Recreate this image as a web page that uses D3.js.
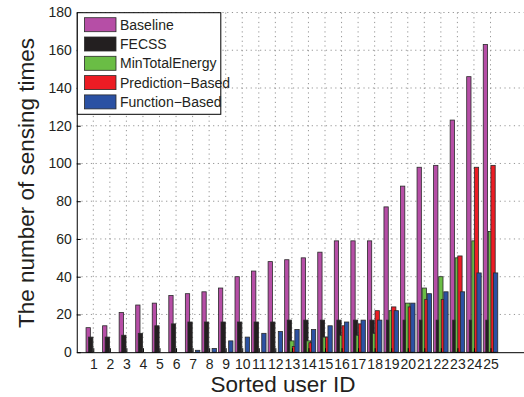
<!DOCTYPE html>
<html>
<head>
<meta charset="utf-8">
<script src="https://cdn.jsdelivr.net/npm/d3@7"></script>
<style>
  html, body { margin: 0; padding: 0; background: #fff; }
  svg { display: block; font-family: "Liberation Sans", Arial, Helvetica, sans-serif; }
</style>
</head>
<body>
<svg id="chart" width="524" height="397"></svg>
<script>
// Sorted user IDs and the number of sensing times per strategy
const userIds = d3.range(1, 26);
const seriesNames = ["Baseline", "FECSS", "MinTotalEnergy", "Prediction\u2212Based", "Function\u2212Based"];
const baseline       = [13, 14, 21, 25, 26, 30, 31, 32, 34, 40, 43, 48, 49, 50, 53, 59, 59, 59, 77, 88, 98, 99, 123, 146, 163];
const fecss          = [8, 8, 9, 10, 14, 15, 16, 16, 16, 16, 16, 16, 17, 17, 17, 17, 17, 17, 17, 17, 17, 17, 17, 17, 17];
const minTotalEnergy = [0, 0, 0, 0, 0, 0, 0, 0, 0, 0, 0, 0, 6, 6, 8, 9, 9, 10, 22, 26, 34, 40, 50, 59, 64];
const predictionBased = [0, 0, 0, 0, 0, 0, 0, 0, 0, 0, 0, 0, 3, 5, 8, 14, 15, 22, 24, 24, 28, 28, 51, 98, 99];
const functionBased  = [0, 0, 0, 0, 0, 0, 1, 2, 6, 8, 10, 11, 12, 12, 14, 16, 17, 17, 22, 26, 31, 32, 32, 42, 42];
const yTicks = [0, 20, 40, 60, 80, 100, 120, 140, 160, 180];
const seriesColors = ["#b64ea6", "#231f20", "#6abd45", "#ec1c24", "#2b51a3"];

const allSeries = [baseline, fecss, minTotalEnergy, predictionBased, functionBased];

const svg = d3.select("#chart");
const plotLeft = 76.75, plotRight = 523.6, plotTop = 12.5, plotBottom = 352.2;

const x = d3.scaleLinear().domain([0, 27]).range([plotLeft, plotRight]);
const y = d3.scaleLinear().domain([0, 180]).range([plotBottom, plotTop]);

// dotted grid
const grid = svg.append("g");
grid.selectAll("line.h").data(yTicks.filter(d => d > 0)).enter().append("line")
  .attr("class", "h")
  .attr("x1", plotLeft).attr("x2", plotRight)
  .attr("y1", d => y(d)).attr("y2", d => y(d))
  .attr("stroke", "#8a8a8a").attr("stroke-width", 0.9).attr("stroke-dasharray", "1.2,3.5");
grid.selectAll("line.v").data(userIds).enter().append("line")
  .attr("class", "v")
  .attr("x1", d => x(d)).attr("x2", d => x(d))
  .attr("y1", plotTop).attr("y2", plotBottom)
  .attr("stroke", "#8a8a8a").attr("stroke-width", 0.9).attr("stroke-dasharray", "1.2,3.5");

// grouped bars: five series side by side around each user ID
const step = 0.154;      // offset between neighbouring series (data units)
const barW = 0.26;       // bar width (data units)
const bars = svg.append("g");
allSeries.forEach((vals, si) => {
  const off = (si - 2) * step;
  bars.append("g").selectAll("rect")
    .data(vals.map((v, i) => ({ id: userIds[i], v })).filter(d => d.v > 0))
    .enter().append("rect")
    .attr("x", d => x(d.id + off - barW / 2))
    .attr("width", x(barW) - x(0))
    .attr("y", d => y(d.v))
    .attr("height", d => y(0) - y(d.v))
    .attr("fill", seriesColors[si])
    .attr("stroke", "#2a2a2a")
    .attr("stroke-width", 0.8);
});

// axes
const yAxis = d3.axisLeft(y).tickValues(yTicks).tickSizeInner(-4).tickSizeOuter(0).tickPadding(5);
const gy = svg.append("g").attr("transform", `translate(${plotLeft},0)`).call(yAxis);
gy.select(".domain").attr("stroke", "#000").attr("stroke-width", 1);
gy.selectAll(".tick line").attr("stroke", "#000");
gy.selectAll("text").attr("font-size", 14).attr("fill", "#231f20")
  .attr("font-family", "Liberation Sans, Arial, sans-serif");

const xAxis = d3.axisBottom(x).tickValues(userIds).tickFormat(d3.format("d"))
  .tickSizeInner(-4).tickSizeOuter(0).tickPadding(7);
const gx = svg.append("g").attr("transform", `translate(0,${plotBottom})`).call(xAxis);
gx.select(".domain").attr("stroke", "#000").attr("stroke-width", 1);
gx.selectAll(".tick line").attr("stroke", "#000");
gx.selectAll("text").attr("font-size", 14).attr("fill", "#231f20")
  .attr("font-family", "Liberation Sans, Arial, sans-serif");

// axis titles
svg.append("text").attr("x", 283).attr("y", 392).attr("text-anchor", "middle")
  .attr("font-size", 22.5).attr("fill", "#231f20").text("Sorted user ID");
svg.append("text").attr("transform", "translate(34,183) rotate(-90)").attr("text-anchor", "middle")
  .attr("font-size", 22.5).attr("fill", "#231f20").text("The number of sensing times");

// legend
const lg = svg.append("g");
lg.append("rect").attr("x", 77.3).attr("y", 12.7).attr("width", 143.5).attr("height", 101.6)
  .attr("fill", "#fff").attr("stroke", "#000").attr("stroke-width", 1);
seriesNames.forEach((name, i) => {
  const cy = 24.7 + i * 19.3;
  lg.append("rect").attr("x", 84.5).attr("y", cy - 7).attr("width", 31.5).attr("height", 14)
    .attr("fill", seriesColors[i]).attr("stroke", "#2a2a2a").attr("stroke-width", 0.8);
  lg.append("text").attr("x", 120).attr("y", cy + 5).attr("font-size", 14)
    .attr("fill", "#231f20").text(name);
});
</script>
</body>
</html>
